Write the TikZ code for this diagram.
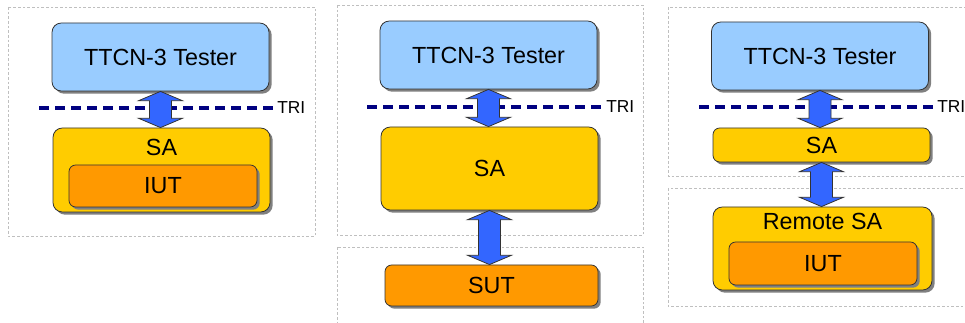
\documentclass[tikz,border=0pt]{standalone}
\usepackage{fontspec}
\setmainfont{Liberation Sans}
\usetikzlibrary{shadows, calc, positioning}
\definecolor{testerblue}{HTML}{99CCFF}
\definecolor{sayellow}{HTML}{FFCC00}
\definecolor{iutorange}{HTML}{FF9900}
\definecolor{arrowblue}{HTML}{3366FF}
\definecolor{trinavy}{HTML}{000080}

\begin{document}
\begin{tikzpicture}[x=0.75pt, y=-0.75pt]
\tikzset{
  box/.style={draw=black!80, line width=0.6pt, rounded corners=7pt, inner sep=0pt,
    drop shadow={shadow xshift=2pt, shadow yshift=-2pt, fill=black!50, opacity=1},
    font=\fontsize{17.5}{20}\selectfont},
  tester/.style={box, fill=testerblue, minimum width=162.75pt, minimum height=51pt},
  sabox/.style={box, fill=sayellow, minimum width=162.75pt},
  iutbox/.style={box, fill=iutorange, rounded corners=5pt, minimum height=31.5pt},
  toplabel/.style={anchor=center, yshift=-#1, font=\fontsize{17.5}{20}\selectfont},
  tri/.style={anchor=west, inner sep=2.25pt, font=\fontsize{13}{15}\selectfont},
  triline/.style={draw=trinavy, line width=2.3pt, dash pattern=on 7.5pt off 4.5pt},
  frame/.style={draw=black!25, line width=0.5pt, dash pattern=on 2pt off 1.5pt},
  fat/.style={fill=arrowblue, draw=black!80, line width=0.6pt,
    to path={let \p1=(\tikztostart), \p2=(\tikztotarget) in
      (\x1,\y1) -- (\x1+16.5pt,\y1-7pt) -- (\x1+8.25pt,\y1-7pt)
      -- (\x1+8.25pt,\y2+7pt) -- (\x1+16.5pt,\y2+7pt) -- (\x1,\y2)
      -- (\x1-16.5pt,\y2+7pt) -- (\x1-8.25pt,\y2+7pt)
      -- (\x1-8.25pt,\y1-7pt) -- (\x1-16.5pt,\y1-7pt) -- cycle}}
}
\useasboundingbox (0,0) rectangle (965,323);

% frames
\draw[frame] (8,7) rectangle (315,236);
\draw[frame] (337,5) rectangle (643,235);
\draw[frame] (337,247) rectangle (643,335);
\draw[frame] (668,7) rectangle (975,176);
\draw[frame] (668,188) rectangle (975,306);

% panel 1: SA with IUT inside
\node[tester] (T1) at (160.5,57) {TTCN-3 Tester};
\node[tri] (R1) at (274,108) {TRI};
\coordinate (L1) at (39,108);
\draw[triline] (L1) -- (R1.west);
\node[sabox, minimum height=63pt, label={[toplabel=15pt]north:SA}] (S1) at (161.5,170) {};
\node[iutbox, minimum width=141pt] (I1) at (163,186) {IUT};
\draw[fat] (T1.south) to (S1.north);

% panel 2: SA talking to SUT
\node[tester] (T2) at (488.5,55) {TTCN-3 Tester};
\node[tri] (R2) at (603,107) {TRI};
\coordinate (L2) at (367,107);
\draw[triline] (L2) -- (R2.west);
\node[sabox, minimum height=62.25pt] (S2) at (489.5,168.5) {SA};
\node[iutbox, minimum width=159.75pt, minimum height=30.75pt] (U2) at (491.5,285.5) {SUT};
\draw[fat] (T2.south) to (S2.north);
\draw[fat] (S2.south) to (U2.north);

% panel 3: SA and remote SA
\node[tester] (T3) at (820,56) {TTCN-3 Tester};
\node[tri] (R3) at (934,107) {TRI};
\coordinate (L3) at (699,107);
\draw[triline] (L3) -- (R3.west);
\node[sabox, minimum height=25.5pt, rounded corners=5pt] (S3) at (821.5,145) {SA};
\node[sabox, minimum width=164.25pt, minimum height=62.25pt,
  label={[toplabel=11.25pt]north:Remote SA}] (M3) at (822.5,248.5) {};
\node[iutbox, minimum width=141pt, minimum height=32.25pt] (I3) at (823,263.5) {IUT};
\draw[fat] (T3.south) to (S3.north);
\draw[fat] (S3.south) to (M3.north);
\end{tikzpicture}
\end{document}
